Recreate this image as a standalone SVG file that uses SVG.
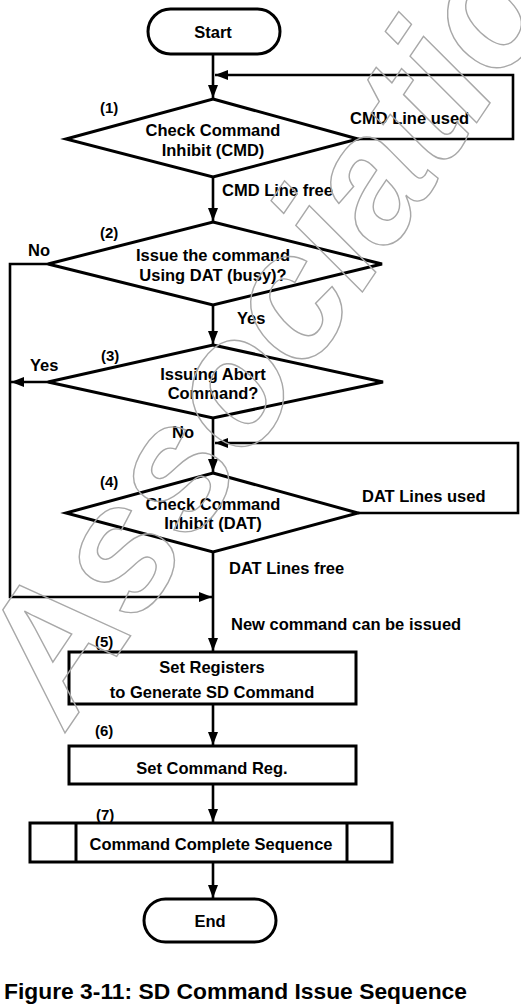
<svg xmlns="http://www.w3.org/2000/svg" width="521" height="1006" viewBox="0 0 521 1006">
<style>
text{font-family:"Liberation Sans",Arial,sans-serif;font-weight:bold;font-size:16.5px;fill:#000}
.c{text-anchor:middle}
.n{font-size:15px}
.shape{fill:none;stroke:#000;stroke-width:3}
.wm{font-family:"Liberation Sans",Arial,sans-serif;font-style:italic;font-weight:bold;font-size:175px;fill:none;stroke:#a8a8a8;stroke-width:1.4}
#connectors path{fill:none;stroke:#000;stroke-width:2.6}
</style>
<defs>
<marker id="ah" markerUnits="userSpaceOnUse" markerWidth="13" markerHeight="10" refX="13" refY="5" orient="auto">
<path d="M0,0 L13,5 L0,10 z" fill="#000"/>
</marker>
</defs>
<rect width="521" height="1006" fill="#fff"/>
<g id="connectors">
<path d="M213,54 V98" marker-end="url(#ah)"/>
<path d="M358,139 H513 V75 H215" marker-end="url(#ah)"/>
<path d="M213,177 V221" marker-end="url(#ah)"/>
<path d="M48,264 H10 V597 H212" marker-end="url(#ah)"/>
<path d="M213,305 V344" marker-end="url(#ah)"/>
<path d="M48,382 H11" marker-end="url(#ah)"/>
<path d="M213,418 V472" marker-end="url(#ah)"/>
<path d="M358,513 H518 V443 H215" marker-end="url(#ah)"/>
<path d="M213,552 V651" marker-end="url(#ah)"/>
<path d="M213,704 V745" marker-end="url(#ah)"/>
<path d="M213,784 V822" marker-end="url(#ah)"/>
<path d="M213,862 V898" marker-end="url(#ah)"/>
</g>
<g id="start">
<rect class="shape" x="148" y="9" width="132" height="45" rx="22.5"/>
<text class="c" x="213" y="38">Start</text>
</g>
<g id="step1">
<polygon class="shape" points="213,99 358,139 213,177 66,139"/>
<text class="c" x="213" y="136">Check Command</text>
<text class="c" x="213" y="156">Inhibit (CMD)</text>
<text class="n" x="100" y="113">(1)</text>
</g>
<g id="step2">
<polygon class="shape" points="213,222 382,264 213,305 48,264"/>
<text class="c" x="213" y="261">Issue the command</text>
<text class="c" x="213" y="281">Using DAT (busy)?</text>
<text class="n" x="100" y="238">(2)</text>
</g>
<g id="step3">
<polygon class="shape" points="213,345 383,382 213,418 48,382"/>
<text class="c" x="213" y="380">Issuing Abort</text>
<text class="c" x="213" y="399">Command?</text>
<text class="n" x="101" y="361">(3)</text>
</g>
<g id="step4">
<polygon class="shape" points="213,473 358,513 213,552 66,513"/>
<text class="c" x="213" y="510">Check Command</text>
<text class="c" x="213" y="529">Inhibit (DAT)</text>
<text class="n" x="100" y="487">(4)</text>
</g>
<g id="step5">
<rect class="shape" x="69" y="652" width="287" height="52"/>
<text class="c" x="212" y="673">Set Registers</text>
<text class="c" x="212" y="698">to Generate SD Command</text>
<text class="n" x="95" y="647">(5)</text>
</g>
<g id="step6">
<rect class="shape" x="69" y="746" width="287" height="38"/>
<text class="c" x="212" y="774">Set Command Reg.</text>
<text class="n" x="95" y="736">(6)</text>
</g>
<g id="step7">
<rect class="shape" x="30" y="823" width="362" height="39"/>
<line x1="76" y1="823" x2="76" y2="862" stroke="#000" stroke-width="3"/>
<line x1="347" y1="823" x2="347" y2="862" stroke="#000" stroke-width="3"/>
<text class="c" x="211" y="850">Command Complete Sequence</text>
<text class="n" x="96" y="820">(7)</text>
</g>
<g id="end">
<rect class="shape" x="144" y="899" width="132" height="43" rx="21.5"/>
<text class="c" x="210" y="927">End</text>
</g>
<g id="labels">
<text x="350" y="124">CMD Line used</text>
<text x="222" y="196">CMD Line free</text>
<text x="28" y="256">No</text>
<text x="237" y="324">Yes</text>
<text x="30" y="371">Yes</text>
<text x="172" y="438">No</text>
<text x="362" y="502">DAT Lines used</text>
<text x="229" y="574">DAT Lines free</text>
<text x="231" y="630">New command can be issued</text>
</g>
<text x="4" y="999" style="font-size:22px" textLength="463" lengthAdjust="spacingAndGlyphs">Figure 3-11: SD Command Issue Sequence</text>
<g id="watermark">
<text class="wm" transform="translate(67,730) rotate(-56)" x="0" y="0">Association</text>
</g>
</svg>
